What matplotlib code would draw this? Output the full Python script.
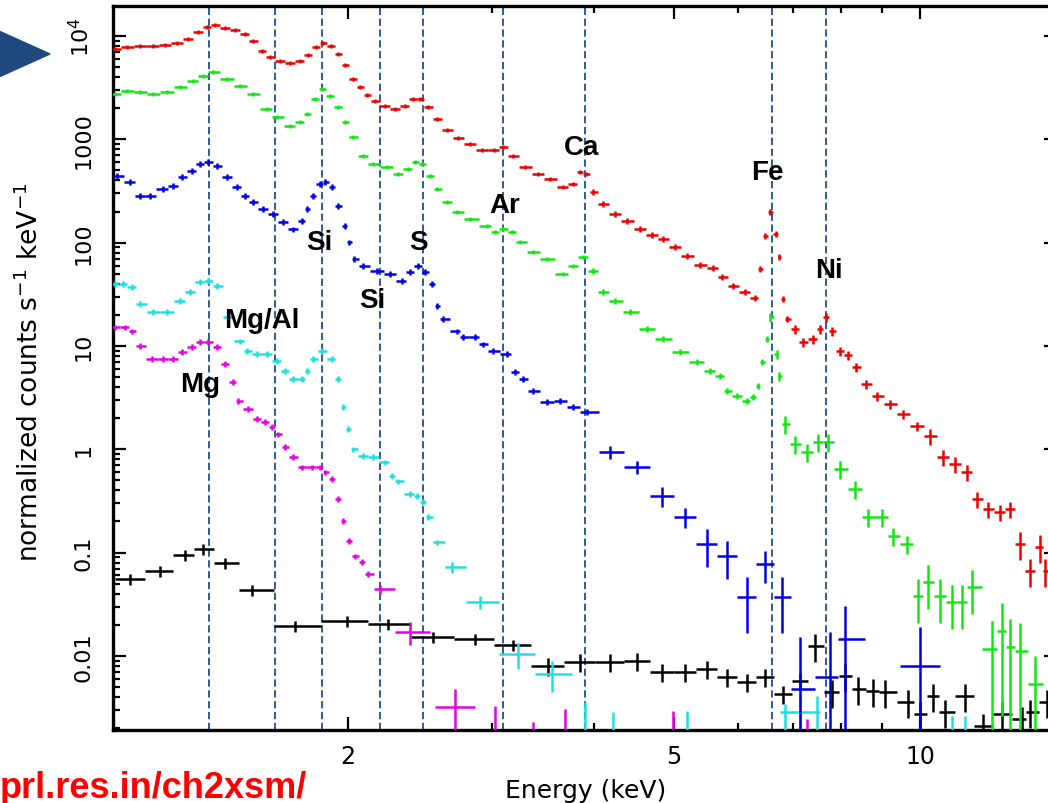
import numpy as np
import matplotlib
matplotlib.use('Agg')
import matplotlib.pyplot as plt
from matplotlib.patches import Polygon

# ---- spectra (energy in keV, normalized counts s^-1 keV^-1, relative error) ----
red_e = [1.038, 1.074, 1.114, 1.155, 1.195, 1.236, 1.275, 1.311, 1.345, 1.376,
         1.415, 1.455, 1.497, 1.531, 1.570, 1.606, 1.652, 1.699, 1.747, 1.787,
         1.828, 1.864, 1.907, 1.945, 1.983, 2.028, 2.069, 2.110, 2.158, 2.219,
         2.283, 2.348, 2.402, 2.449, 2.505, 2.569, 2.643, 2.726, 2.819, 2.916,
         3.017, 3.094, 3.183, 3.292, 3.415, 3.532, 3.664, 3.769, 3.844, 3.909,
         3.987, 4.100, 4.241, 4.387, 4.550, 4.706, 4.855, 5.022, 5.193, 5.387,
         5.588, 5.731, 5.912, 6.114, 6.290, 6.379, 6.469, 6.561, 6.672, 6.729,
         6.805, 6.882, 7.039, 7.198, 7.405, 7.552, 7.682, 7.812, 7.990, 8.171,
         8.357, 8.597, 8.867, 9.197, 9.541, 9.923, 10.29, 10.68, 11.04, 11.42,
         11.75, 12.12, 12.53, 12.89, 13.26, 13.64, 14.03, 14.23]
red_y = [7480, 7830, 8000, 8000, 8190, 8560, 9350, 10940, 12220, 12780,
         11950, 11430, 10450, 8950, 7160, 6260, 5720, 5480, 5720, 6550,
         7830, 8560, 8000, 6690, 5240, 3840, 3210, 2685, 2348, 2100,
         1963, 2100, 2455, 2455, 2053, 1573, 1230, 1030, 901, 787,
         787, 842, 689, 539, 461, 413, 345, 369, 483, 461,
         309, 237, 189, 162, 135, 118.5, 108, 90.6, 74.2, 60.7,
         56.8, 46.4, 38.0, 33.3, 29.1, 55.5, 116, 198, 121, 72.6,
         28.4, 18.2, 14.6, 10.9, 11.7, 14.6, 19.1, 13.9, 8.93, 8.17,
         6.25, 4.28, 3.27, 2.74, 2.19, 1.68, 1.34, 0.84, 0.72, 0.60,
         0.33, 0.264, 0.247, 0.264, 0.121, 0.0662, 0.113, 0.0662]
red_err = [0.05] * 50 + [0.07] * 22 + [0.10] * 14 + [0.18] * 8 + [0.3] * 4

green_e = [1.038, 1.074, 1.114, 1.155, 1.202, 1.246, 1.293, 1.330, 1.368, 1.423,
           1.476, 1.531, 1.592, 1.638, 1.699, 1.747, 1.782, 1.823, 1.859, 1.901,
           1.945, 1.983, 2.028, 2.086, 2.146, 2.232, 2.302, 2.368, 2.415, 2.463,
           2.519, 2.569, 2.643, 2.718, 2.819, 2.958, 3.025, 3.094, 3.174, 3.246,
           3.368, 3.503, 3.664, 3.769, 3.877, 3.987, 4.100, 4.241, 4.423, 4.641,
           4.855, 5.093, 5.342, 5.540, 5.699, 5.812, 5.979, 6.150, 6.254, 6.342,
           6.414, 6.505, 6.561, 6.690, 6.729, 6.843, 7.039, 7.280, 7.510, 7.725,
           7.990, 8.334, 8.645, 8.992, 9.275, 9.648, 9.950, 10.23, 10.59, 10.95,
           11.26, 11.58, 12.26, 12.61, 12.89, 13.26, 13.83]
green_y = [2745, 2935, 2870, 2745, 2870, 3210, 3670, 4100, 4480, 3840,
           3280, 2745, 1963, 1643, 1344, 1470, 1757, 2455, 3070, 2625,
           2053, 1470, 1053, 689, 576, 539, 461, 516, 602, 576,
           441, 330, 247, 198, 169, 145, 127, 135, 127, 101,
           81, 69.4, 49.6, 59.3, 72.6, 53.1, 33.3, 27.2, 21.3, 14.6,
           11.7, 8.73, 6.98, 5.71, 5.11, 3.66, 3.27, 2.93, 3.20, 4.09,
           6.98, 11.7, 19.1, 8.36, 5.11, 1.75, 1.12, 0.94, 1.17, 1.17,
           0.64, 0.41, 0.221, 0.221, 0.145, 0.121, 0.0379, 0.0518, 0.0379, 0.0332,
           0.0332, 0.0463, 0.01164, 0.0174, 0.01217, 0.01113, 0.00533]
green_err = [0.05] * 45 + [0.07] * 17 + [0.1] * 3 + [0.2] * 11 + [0.45] * 6 + [0.85] * 5

blue_e = [1.044, 1.083, 1.114, 1.145, 1.188, 1.222, 1.254, 1.289, 1.319, 1.349,
          1.384, 1.423, 1.464, 1.497, 1.531, 1.574, 1.619, 1.665, 1.713, 1.757,
          1.782, 1.812, 1.848, 1.875, 1.912, 1.945, 1.983, 2.006, 2.034, 2.086,
          2.170, 2.251, 2.328, 2.381, 2.436, 2.484, 2.533, 2.569, 2.613, 2.718,
          2.765, 2.860, 2.925, 3.008, 3.129, 3.201, 3.274, 3.368, 3.503, 3.633,
          3.769, 3.921, 4.182, 4.512, 4.841, 5.164, 5.495, 5.812, 6.150, 6.469,
          6.786, 7.139, 7.767, 8.103, 10.01]
blue_y = [441, 386, 283, 283, 330, 353, 431, 494, 576, 602,
          551, 431, 345, 283, 247, 211, 189, 158, 135, 162,
          211, 283, 369, 386, 345, 226, 145, 101, 69.4, 59.3,
          53.1, 49.6, 42.5, 51.9, 59.3, 51.9, 39.7, 24.3, 18.2, 13.9,
          12.2, 12.2, 10.4, 8.93, 8.36, 5.59, 4.78, 3.66, 2.86, 2.93,
          2.56, 2.29, 0.94, 0.67, 0.352, 0.221, 0.121, 0.092, 0.0371, 0.0774,
          0.0371, 0.00477, 0.00623, 0.01455, 0.00796]
blue_err = [0.06] * 52 + [0.15, 0.15, 0.22, 0.22, 0.4, 0.4, 0.55, 0.35, 0.55,
                          2.2, 1.7, 1.1, 1.4]

cyan_e = [1.038, 1.061, 1.089, 1.114, 1.155, 1.202, 1.246, 1.282, 1.319, 1.349,
          1.384, 1.427, 1.476, 1.505, 1.548, 1.592, 1.638, 1.675, 1.713, 1.757,
          1.782, 1.812, 1.859, 1.912, 1.945, 1.972, 2.000, 2.028, 2.086, 2.146,
          2.219, 2.264, 2.302, 2.381, 2.429, 2.470, 2.505, 2.569, 2.680, 2.900,
          3.228, 3.552, 7.139]
cyan_y = [39.7, 39.7, 37.2, 25.4, 21.3, 21.3, 27.2, 33.3, 41.5, 42.5,
          38.0, 19.1, 11.1, 8.93, 8.36, 8.36, 7.14, 5.71, 4.78, 4.78,
          5.71, 7.47, 8.93, 7.47, 4.78, 2.56, 1.57, 1.00, 0.86, 0.84,
          0.75, 0.55, 0.49, 0.37, 0.352, 0.308, 0.221, 0.126, 0.0724, 0.0332,
          0.0104, 0.00667, 0.00286]
cyan_err = [0.06] * 38 + [0.12, 0.15, 0.28, 0.33, 0.5]
# bins whose value falls below the plot: only the upper error end is visible
cyan_lim_e = [3.898, 4.217, 5.193, 6.843, 7.488, 10.95, 11.36]
cyan_lim_top = [0.00357, 0.00286, 0.00292, 0.00342, 0.00408, 0.0026, 0.0026]

mag_e = [1.038, 1.068, 1.089, 1.114, 1.152, 1.188, 1.222, 1.254, 1.289, 1.319,
         1.349, 1.384, 1.415, 1.447, 1.468, 1.509, 1.548, 1.583, 1.615, 1.642,
         1.675, 1.713, 1.757, 1.807, 1.848, 1.875, 1.912, 1.945, 1.972, 2.006,
         2.040, 2.080, 2.116, 2.188, 2.381, 2.703]
mag_y = [15.2, 15.2, 13.9, 9.97, 7.47, 7.47, 7.47, 8.73, 9.75, 10.9,
         10.9, 9.75, 6.68, 4.47, 2.93, 2.45, 1.96, 1.83, 1.64, 1.40,
         1.05, 0.84, 0.67, 0.67, 0.67, 0.60, 0.515, 0.33, 0.202, 0.129,
         0.092, 0.081, 0.0619, 0.0443, 0.0170, 0.00319]
mag_err = [0.06] * 33 + [0.1, 0.25, 0.5]
mag_lim_e = [3.025, 3.368, 3.685, 4.993, 7.280]
mag_lim_top = [0.00327, 0.00229, 0.00305, 0.00292, 0.00245]

black_e = [1.083, 1.178, 1.264, 1.330, 1.415, 1.526, 1.723, 1.994, 2.239, 2.540,
           2.860, 3.183, 3.512, 3.844, 4.182, 4.512, 4.841, 5.164, 5.495, 5.812,
           6.150, 6.469, 6.805, 7.139, 7.447, 7.812, 8.103, 8.405, 8.767, 9.069,
           9.675, 10.01, 10.38, 10.74, 11.36, 11.95, 12.61, 13.34, 13.64, 14.31]
black_y = [0.0554, 0.0662, 0.0946, 0.108, 0.0791, 0.0433, 0.0194, 0.0217, 0.0203, 0.0152,
           0.01455, 0.0127, 0.00796, 0.0087, 0.0087, 0.0089, 0.00697, 0.00697, 0.00745, 0.00623,
           0.00557, 0.00623, 0.00427, 0.0057, 0.0124, 0.00446, 0.00637, 0.00477, 0.00456, 0.00446,
           0.00357, 0.00273, 0.00408, 0.00286, 0.00408, 0.00209, 0.00273, 0.00245, 0.00286, 0.00357]
black_err = [0.12] * 12 + [0.2] * 12 + [0.3] * 16

# line energies (keV) and labels
line_e = [1.353, 1.628, 1.859, 2.188, 2.470, 3.094, 3.898, 6.597, 7.682]
label_txt = ['Mg', 'Mg/Al', 'Si', 'Si', 'S', 'Ar', 'Ca', 'Fe', 'Ni']
label_e = [1.319, 1.570, 1.843, 2.140, 2.436, 3.112, 3.854, 6.505, 7.746]
label_y = [3.66, 15.2, 86.7, 23.8, 86.7, 198, 721, 413, 46.4]


def bin_halfwidths(e, cap=None):
    """ bin edges halfway (in log) between neighbouring channels """
    le = np.log10(np.asarray(e, float))
    mid = (le[1:] + le[:-1]) / 2
    lo = np.concatenate([[2 * le[0] - mid[0]], mid])
    hi = np.concatenate([mid, [2 * le[-1] - mid[-1]]])
    if cap is not None:
        lo = np.maximum(lo, le - cap)
        hi = np.minimum(hi, le + cap)
    e = 10 ** le
    return [e - 10 ** lo, 10 ** hi - e]


def plot_spec(ax, e, y, rel, color, cap=0.0245):
    y = np.asarray(y, float)
    s = y * np.asarray(rel, float)
    ylo = np.minimum(s, y * 0.999)
    ax.errorbar(e, y, xerr=bin_halfwidths(e, cap), yerr=[ylo, s], fmt='none',
                ecolor=color, elinewidth=1.8, capsize=0, zorder=3)


fig = plt.figure(figsize=(10.48, 8.04), dpi=100)
ax = fig.add_axes([113 / 1048, 73 / 804, 944 / 1048, 724 / 804])
ax.set_xscale('log')
ax.set_yscale('log')
ax.set_xlim(1.032, 14.71)
ax.set_ylim(0.001914, 19515)

for e in line_e:
    ax.axvline(e, color='#1f4e8c', lw=1.3, linestyle=(0, (4, 2)), zorder=1)

plot_spec(ax, black_e, black_y, black_err, 'black', cap=None)
plot_spec(ax, mag_e, mag_y, mag_err, '#e600e6')
plot_spec(ax, cyan_e, cyan_y, cyan_err, '#1ee0e0')
plot_spec(ax, blue_e, blue_y, blue_err, '#0000e6')
plot_spec(ax, green_e, green_y, green_err, '#14e614')
plot_spec(ax, red_e, red_y, red_err, '#ee0000')
ybot = ax.get_ylim()[0]
ax.vlines(cyan_lim_e, ybot, cyan_lim_top, color='#1ee0e0', lw=1.8, zorder=3)
ax.vlines(mag_lim_e, ybot, mag_lim_top, color='#e600e6', lw=1.8, zorder=3)

for t, e, v in zip(label_txt, label_e, label_y):
    ax.text(e, v, t, ha='center', va='baseline', fontsize=20, fontweight='bold',
            family=['Liberation Sans', 'DejaVu Sans'], zorder=5)

# axes in the old pgplot look
for sp in ax.spines.values():
    sp.set_linewidth(2.4)
ax.set_xticks([2, 5, 10])
ax.set_xticklabels(['2', '5', '10'])
ax.set_xticks([3, 4, 6, 7, 8, 9], minor=True)
ax.xaxis.set_minor_formatter(plt.NullFormatter())
ax.set_yticks([0.01, 0.1, 1, 10, 100, 1000, 10000])
ax.set_yticklabels(['0.01', '0.1', '1', '10', '100', '1000', r'$10^4$'])
ax.yaxis.set_minor_locator(matplotlib.ticker.LogLocator(base=10, subs=np.arange(2, 10)))
ax.yaxis.set_minor_formatter(plt.NullFormatter())
ax.tick_params(which='both', direction='in', top=True, right=True, width=1.6)
ax.tick_params(which='major', length=9.5)
ax.tick_params(which='minor', length=5)
ax.tick_params(axis='x', labelsize=17, pad=10)
ax.tick_params(axis='y', labelsize=16, pad=14, labelrotation=90)
for lbl in ax.get_yticklabels():
    lbl.set_va('center')

fig.text(30 / 1048, 1 - 372 / 804, r'normalized counts s$^{-1}$ keV$^{-1}$', rotation=90,
         ha='center', va='center', fontsize=19)
fig.text(586 / 1048, 1 - 791 / 804, 'Energy (keV)', ha='center', va='center', fontsize=18)

# slide decorations
tri = Polygon([(-10 / 1048, 1 - 28 / 804), (-10 / 1048, 1 - 82 / 804), (50 / 1048, 1 - 55 / 804)],
              closed=True, transform=fig.transFigure, color='#1f497d', clip_on=False)
fig.patches.append(tri)
fig.text(0, 1 - 798 / 804, 'prl.res.in/ch2xsm/', color='#ff0000', fontsize=26, fontweight='bold',
         family=['Liberation Sans', 'DejaVu Sans'], ha='left', va='baseline')

fig.savefig('out.png', dpi=100)
